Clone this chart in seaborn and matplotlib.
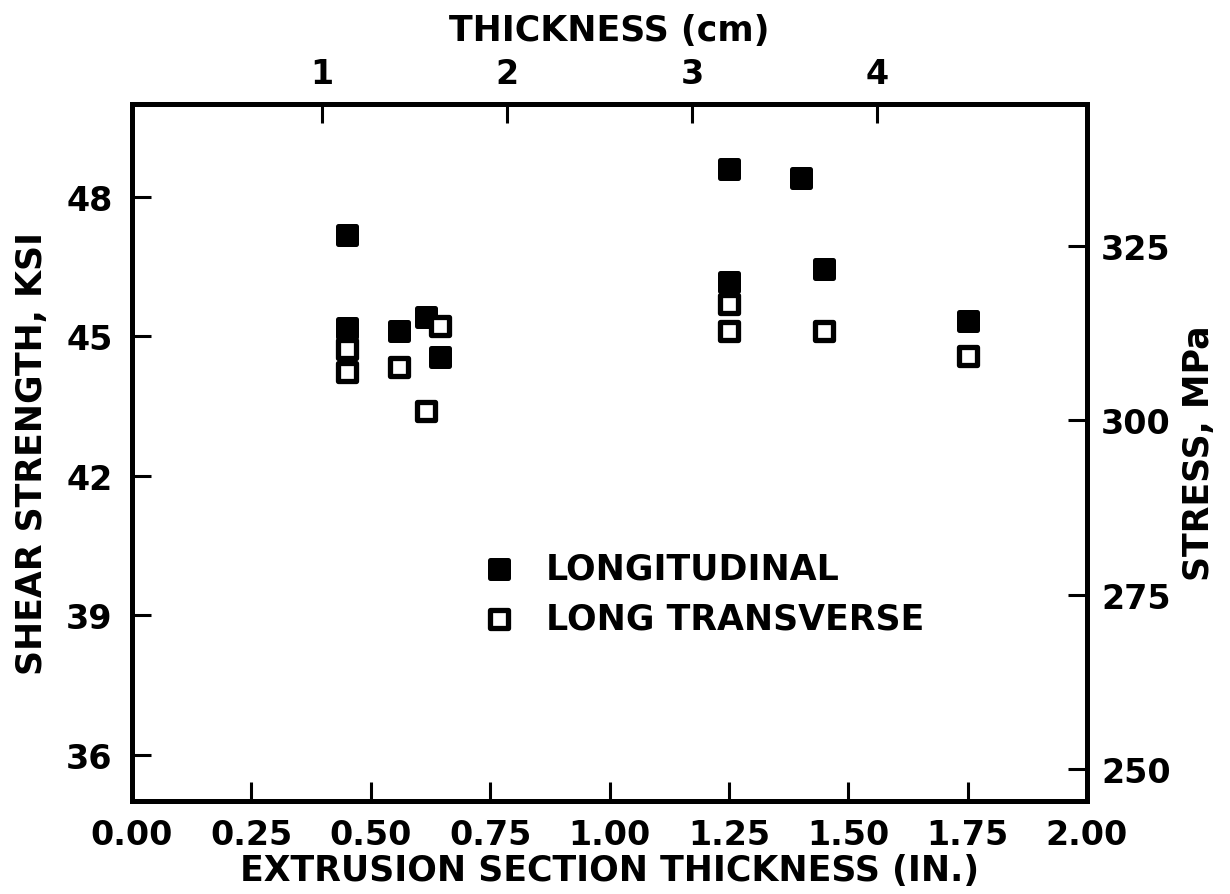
import matplotlib
matplotlib.use("Agg")
import matplotlib.pyplot as plt
import seaborn as sns
import pandas as pd

# ---- data ----
long_x = [0.45, 0.45, 0.56, 0.615, 0.645, 1.25, 1.25, 1.40, 1.45, 1.75]
long_y = [47.18, 45.19, 45.12, 45.41, 44.55, 48.60, 46.16, 48.40, 46.45, 45.34]
lt_x = [0.45, 0.45, 0.56, 0.615, 0.645, 1.25, 1.25, 1.45, 1.75]
lt_y = [44.73, 44.24, 44.33, 43.40, 45.23, 45.70, 45.12, 45.12, 44.58]

x_ticks = [0.00, 0.25, 0.50, 0.75, 1.00, 1.25, 1.50, 1.75, 2.00]
x_ticklabels = ["0.00", "0.25", "0.50", "0.75", "1.00", "1.25", "1.50", "1.75", "2.00"]
y_ticks = [36, 39, 42, 45, 48]
mpa_ticks = [250, 275, 300, 325]
cm_ticks = [1, 2, 3, 4]

sns.set_theme(style="white")
plt.rcParams["font.family"] = ["DejaVu Sans"]
plt.rcParams["font.weight"] = "bold"
plt.rcParams["text.color"] = "black"
plt.rcParams["axes.labelcolor"] = "black"
plt.rcParams["axes.edgecolor"] = "black"
plt.rcParams["xtick.color"] = "black"
plt.rcParams["ytick.color"] = "black"

fig = plt.figure(figsize=(12.3, 8.95), dpi=100)
ax = fig.add_axes([132 / 1230, 1 - 802 / 895, 955 / 1230, 697 / 895])

df_l = pd.DataFrame({"x": long_x, "y": long_y})
df_t = pd.DataFrame({"x": lt_x, "y": lt_y})

sns.scatterplot(data=df_l, x="x", y="y", ax=ax, marker="s", s=155,
                color="black", edgecolor="black", linewidth=3.6,
                label="LONGITUDINAL", zorder=3)
sns.scatterplot(data=df_t, x="x", y="y", ax=ax, marker="s", s=155,
                color="white", edgecolor="black", linewidth=3.8,
                label="LONG TRANSVERSE", zorder=4)

ax.set_xlim(0, 2.0)
ax.set_ylim(35, 50)
ax.set_xticks(x_ticks)
ax.set_xticklabels(x_ticklabels)
ax.set_yticks(y_ticks)

fs = 24
lfs = 25
for s in ax.spines.values():
    s.set_linewidth(3.6)
    s.set_color("black")
    s.set_visible(True)

ax.tick_params(axis="x", direction="in", length=14, width=2.2, pad=12,
               labelsize=fs, bottom=True, colors="black")
ax.tick_params(axis="y", direction="in", length=14, width=2.2, pad=14,
               labelsize=fs, left=True, colors="black")
xt = ax.xaxis.get_major_ticks()
xt[0].tick1line.set_visible(False)
xt[-1].tick1line.set_visible(False)

ax.set_xlabel("EXTRUSION SECTION THICKNESS (IN.)", fontsize=lfs, labelpad=2,
              fontweight="bold", color="black")
ax.set_ylabel("SHEAR STRENGTH, KSI", fontsize=lfs, labelpad=12,
              fontweight="bold", color="black")

# right axis: stress, MPa
ax2 = ax.twinx()
ax2.set_ylim(245.4, 345.4)
ax2.set_yticks(mpa_ticks)
ax2.tick_params(axis="y", direction="in", length=14, width=2.2, pad=10,
                labelsize=fs, right=True, colors="black")
ax2.set_ylabel("STRESS, MPa", fontsize=lfs, labelpad=8, fontweight="bold",
               color="black")
for s in ax2.spines.values():
    s.set_linewidth(3.6)
    s.set_color("black")
ax2.grid(False)

# top axis: thickness in cm
def in2cm(v):
    return 2.582 * v - 0.028

def cm2in(v):
    return (v + 0.028) / 2.582

sec = ax.secondary_xaxis("top", functions=(in2cm, cm2in))
sec.set_xticks(cm_ticks)
sec.tick_params(axis="x", direction="in", length=14, width=2.2, pad=10,
                labelsize=fs, colors="black")
sec.set_xlabel("THICKNESS (cm)", fontsize=lfs, labelpad=12, fontweight="bold",
               color="black")
sec.spines["top"].set_linewidth(3.6)
sec.spines["top"].set_color("black")

leg = ax.legend(loc="upper left", bbox_to_anchor=(0.333, 0.378), frameon=False,
                fontsize=lfs, handletextpad=0.35, labelspacing=0.45,
                markerscale=1.0, borderaxespad=0)
for txt in leg.get_texts():
    txt.set_fontweight("bold")
    txt.set_color("black")

ax.grid(False)
fig.savefig("out.png", dpi=100)
